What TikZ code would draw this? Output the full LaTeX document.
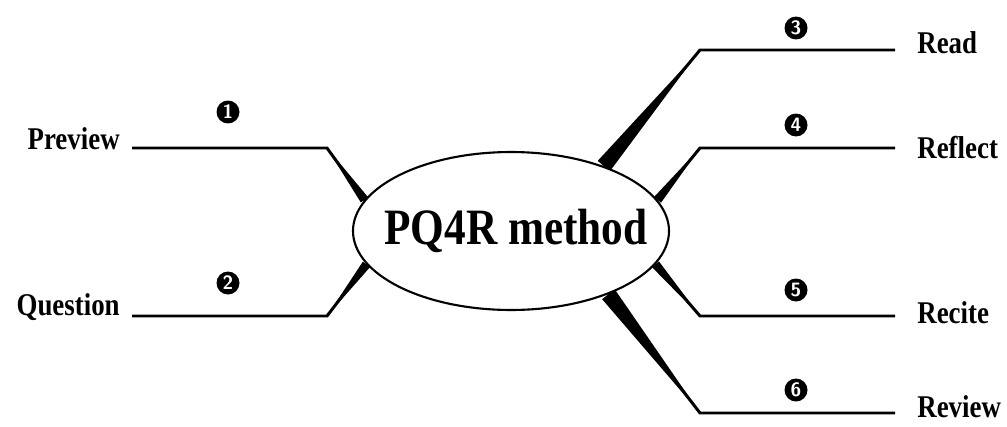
\documentclass[tikz,border=0pt]{standalone}
\usepackage{fontspec}
\setmainfont{Liberation Serif}[FakeStretch=0.85]
\usetikzlibrary{calc,positioning,shapes.geometric,backgrounds}

\begin{document}
\begin{tikzpicture}[x=0.02cm,y=-0.02cm,
                    core node/.style={ellipse,draw,fill=white,line width=1.2pt,minimum width=6.24cm,minimum height=3.16cm,inner xsep=-0.5cm,inner ysep=0pt,font=\fontsize{29}{29}\selectfont\bfseries},
                    step node/.style={font=\fontsize{18}{18}\selectfont\bfseries,text height=0.66em,text depth=0pt,inner sep=0pt},
                    num node/.style={circle,fill=black,text=white,inner sep=0pt,minimum size=0.46cm,font=\sffamily\bfseries\fontsize{11}{11}\selectfont},
                    branch/.style={line width=1.7pt}]
\useasboundingbox (0,0) rectangle (1007,426);

\node[core node] (Core) at (511,231) {\hspace*{0.2cm}PQ4R method};

\node[step node,anchor=east] (Preview) at (120,144) {Preview};
\node[step node,anchor=east] (Question) at (120,310) {Question};
\node[step node,anchor=west] (Read) at (917,48) {Read};
\node[step node,anchor=west] (Reflect) at (917,153) {Reflect};
\node[step node,anchor=west] (Recite) at (917,318) {Recite};
\node[step node,anchor=west] (Review) at (917,412) {Review};

\coordinate (PreviewCorner) at (327,148);
\coordinate (QuestionCorner) at (327,316);
\coordinate (ReadCorner) at (700,50);
\coordinate (ReflectCorner) at (700,148);
\coordinate (ReciteCorner) at (700,316);
\coordinate (ReviewCorner) at (700,413);

% branches
\draw[branch] (Core.168) -- (PreviewCorner) -- (PreviewCorner -| 132,0);
\draw[branch] (Core.193) -- (QuestionCorner) -- (QuestionCorner -| 132,0);
\draw[branch] (Core.35) -- (ReadCorner) -- (ReadCorner -| 895,0);
\draw[branch] (Core.12) -- (ReflectCorner) -- (ReflectCorner -| 895,0);
\draw[branch] (Core.347) -- (ReciteCorner) -- (ReciteCorner -| 895,0);
\draw[branch] (Core.327) -- (ReviewCorner) -- (ReviewCorner -| 895,0);

% tapered roots
\begin{scope}[on background layer]
\foreach \ang/\corner/\w in {168/PreviewCorner/0.09cm,193/QuestionCorner/0.09cm,35/ReadCorner/0.16cm,12/ReflectCorner/0.09cm,347/ReciteCorner/0.09cm,327/ReviewCorner/0.16cm}
  \fill (\corner) -- ($(Core.\ang)!\w!90:(\corner)$) -- ($(Core.\ang)!\w!-90:(\corner)$) -- cycle;
\end{scope}

\foreach \n/\x/\y in {1/228/112,2/228/283,3/796/28,4/796/125,5/796/290,6/796/390}
  \node[num node] (Num\n) at (\x,\y) {\n};

\end{tikzpicture}
\end{document}
